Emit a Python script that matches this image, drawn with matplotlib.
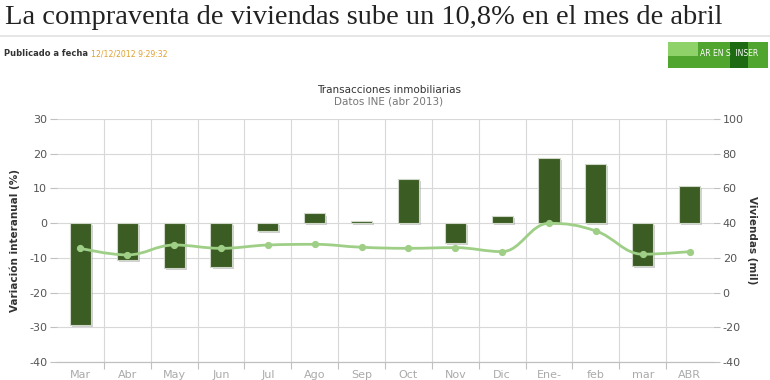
import matplotlib
matplotlib.use("Agg")
import matplotlib.pyplot as plt
from matplotlib.path import Path
from matplotlib.patches import PathPatch, Rectangle
import matplotlib.patheffects as pe
import numpy as np

plt.rcParams["axes.unicode_minus"] = False

categories = ["Mar", "Abr", "May", "Jun", "Jul", "Ago", "Sep", "Oct", "Nov", "Dic", "Ene-", "feb", "mar", "ABR"]
variacion = [-29.4, -10.7, -13.0, -12.7, -2.3, 2.8, 0.7, 12.7, -5.8, 2.0, 18.8, 17.1, -12.3, 10.8]
viviendas = [25.5, 21.7, 27.4, 25.5, 27.4, 27.8, 26.1, 25.5, 25.9, 23.6, 39.9, 35.5, 22.1, 23.6]
left_ticks = [-40, -30, -20, -10, 0, 10, 20, 30]
right_ticks = [-40, -20, 0, 20, 40, 60, 80, 100]

W, H = 770, 380
fig = plt.figure(figsize=(W / 100, H / 100), dpi=100)
fig.patch.set_facecolor("white")

# ---- page header ----
fig.text(5 / W, 1 - 18 / H, "La compraventa de viviendas sube un 10,8% en el mes de abril",
         family=["Liberation Serif", "DejaVu Serif"], fontsize=20.5, color="#222222",
         va="center", ha="left")
fig.add_artist(plt.Line2D([0, 1], [1 - 36 / H, 1 - 36 / H], color="#e2e2e2", lw=1.2,
                          transform=fig.transFigure))
t1 = fig.text(4 / W, 1 - 54 / H, "Publicado a fecha ",
              family=["Liberation Sans Narrow", "DejaVu Sans"], fontsize=6.0,
              weight="bold", color="#333333", va="center", ha="left")
fig.canvas.draw()
bb = t1.get_window_extent()
fig.text(bb.x1 / W, 1 - 54 / H, "12/12/2012 9:29:32",
         family=["Liberation Sans Narrow", "DejaVu Sans"], fontsize=5.6,
         color="#e0a030", va="center", ha="left")

# green button
fig.add_artist(Rectangle((668 / W, 1 - 68 / H), 100 / W, 26 / H, transform=fig.transFigure,
                         facecolor="#4fa52d", edgecolor="none"))
fig.add_artist(Rectangle((668 / W, 1 - 56 / H), 30 / W, 14 / H, transform=fig.transFigure,
                         facecolor="#8fd26a", edgecolor="none"))
fig.add_artist(Rectangle((730 / W, 1 - 68 / H), 18 / W, 26 / H, transform=fig.transFigure,
                         facecolor="#1d6a12", edgecolor="none"))
fig.text(700 / W, 1 - 54 / H, "AR EN S  INSER", fontsize=5.5, color="white",
         va="center", ha="left", family=["Liberation Sans Narrow", "DejaVu Sans"])

# ---- chart ----
ax = fig.add_axes([57 / W, 18 / H, 656 / W, 243 / H])
ax2 = ax.twinx()
x = np.arange(len(categories))

ax.set_xlim(-0.5, len(categories) - 0.5)
ax.set_ylim(-40, 30)
ax2.set_ylim(-40, 100)
ax.set_yticks(left_ticks)
ax2.set_yticks(right_ticks)

grid_c = "#d8d8d8"
ax.set_axisbelow(True)
ax.grid(axis="y", color=grid_c, lw=0.8)
for b in np.arange(0.5, len(categories) - 0.5, 1.0):
    ax.axvline(b, color=grid_c, lw=0.8, zorder=0)

bars = ax.bar(x, variacion, width=0.45, color="#3b5c22", edgecolor="#cfd8c8",
              linewidth=0.8, zorder=3)
for r in bars:
    r.set_path_effects([pe.SimplePatchShadow(offset=(1.5, -1.5), shadow_rgbFace="#999999", alpha=0.45),
                        pe.Normal()])

# Highcharts-like spline via Bezier control points
pts = list(zip(x.astype(float), viviendas))
sm = 1.5
den = sm + 1
lc, rc = [None] * len(pts), [None] * len(pts)
for i, (px, py) in enumerate(pts):
    if 0 < i < len(pts) - 1:
        lx, ly = pts[i - 1]
        nx, ny = pts[i + 1]
        lcx, lcy = (sm * px + lx) / den, (sm * py + ly) / den
        rcx, rcy = (sm * px + nx) / den, (sm * py + ny) / den
        corr = ((rcy - lcy) * (rcx - px)) / (rcx - lcx) + py - rcy
        lcy += corr
        rcy += corr
        if lcy > max(ly, py):
            lcy = max(ly, py); rcy = 2 * py - lcy
        elif lcy < min(ly, py):
            lcy = min(ly, py); rcy = 2 * py - lcy
        if rcy > max(py, ny):
            rcy = max(py, ny); lcy = 2 * py - rcy
        elif rcy < min(py, ny):
            rcy = min(py, ny); lcy = 2 * py - rcy
        lc[i] = (lcx, lcy)
        rc[i] = (rcx, rcy)
    else:
        lc[i] = (px, py)
        rc[i] = (px, py)
verts = [pts[0]]
codes = [Path.MOVETO]
for i in range(1, len(pts)):
    verts += [rc[i - 1], lc[i], pts[i]]
    codes += [Path.CURVE4] * 3
line_c = "#9fcf87"
ax2.add_patch(PathPatch(Path(verts, codes), facecolor="none", edgecolor=line_c, lw=2.0, zorder=4))
ax2.plot(x, viviendas, linestyle="none", marker="o", markersize=4.2, color=line_c, zorder=5)

for a in (ax, ax2):
    for s in ["top", "left", "right"]:
        a.spines[s].set_visible(False)
    a.spines["bottom"].set_color("#c0c0c0")

ax.set_xticks(np.arange(0.5, len(categories) - 1, 1.0), minor=False)
ax.set_xticklabels([])
ax.set_xticks(x, minor=True)
ax.set_xticklabels(categories, minor=True)
ax.tick_params(axis="x", which="major", length=5, color="#c0c0c0")
ax.tick_params(axis="x", which="minor", length=0, pad=6, labelsize=8, labelcolor="#aaaaaa")
ax.tick_params(axis="y", length=5, color="#c0c0c0", labelsize=8, labelcolor="#555555", pad=2)
ax2.tick_params(axis="y", length=5, color="#c0c0c0", labelsize=8, labelcolor="#555555", pad=2)

ax.set_ylabel("Variación interanual (%)", fontsize=7.5, weight="bold", color="#333333")
ax.yaxis.set_label_coords(-(57 - 20) / 656, 0.5)
ax2.set_ylabel("Viviendas (mil)", fontsize=7.5, weight="bold", color="#333333", rotation=270,
               va="center")
ax2.yaxis.set_label_coords(1 + (752 - 713) / 656, 0.5)

fig.text(389 / W, 1 - 90 / H, "Transacciones inmobiliarias", ha="center", va="center",
         fontsize=7.5, color="#333333")
fig.text(389 / W, 1 - 102 / H, "Datos INE (abr 2013)", ha="center", va="center",
         fontsize=7.5, color="#777777")

fig.savefig("out.png", dpi=100, facecolor="white")
